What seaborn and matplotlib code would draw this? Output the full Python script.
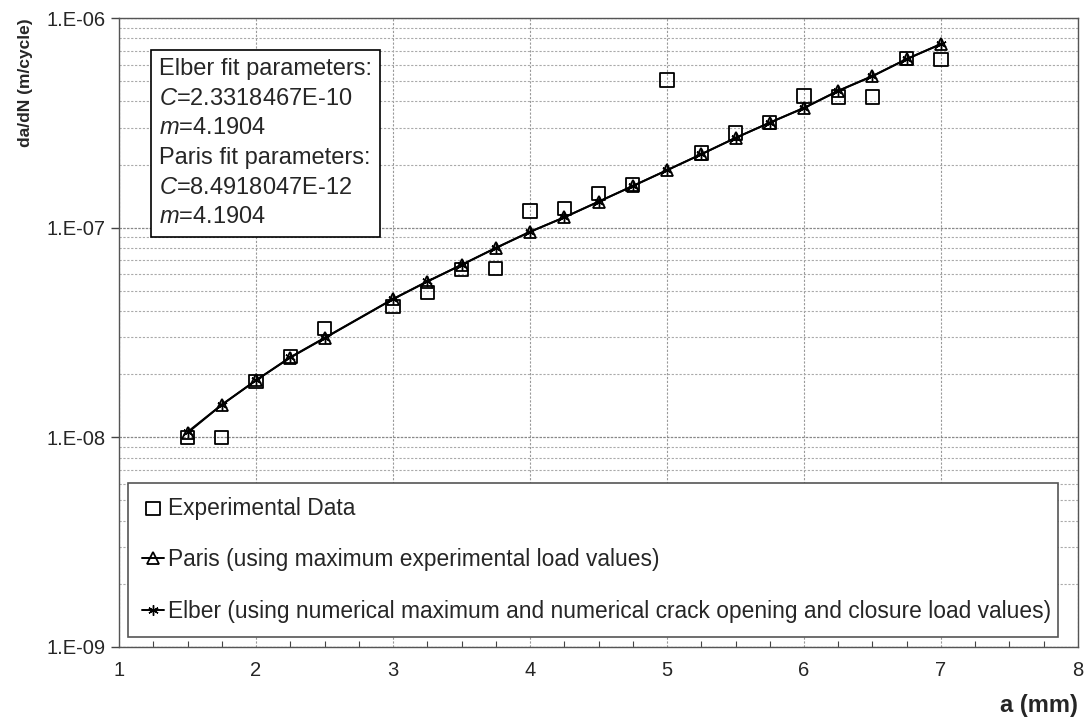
import math

import matplotlib as mpl
mpl.use('Agg')
import matplotlib.pyplot as plt
import seaborn as sns
from matplotlib.ticker import FuncFormatter, LogLocator, MultipleLocator

# crack length (mm)
a_exp = [1.5, 1.75, 2.0, 2.25, 2.5, 3.0, 3.25, 3.5, 3.75, 4.0, 4.25, 4.5, 4.75,
         5.0, 5.25, 5.5, 5.75, 6.0, 6.25, 6.5, 6.75, 7.0]
dadn_exp = [1.0e-8, 1.0e-8, 1.84e-8, 2.43e-8, 3.31e-8, 4.2e-8, 4.92e-8, 6.34e-8, 6.4e-8,
            1.2e-7, 1.24e-7, 1.45e-7, 1.6e-7, 5.06e-7, 2.27e-7, 2.83e-7, 3.17e-7,
            4.25e-7, 4.2e-7, 4.2e-7, 6.44e-7, 6.36e-7]

a_model = a_exp
dadn_paris = [1.05e-8, 1.43e-8, 1.87e-8, 2.40e-8, 2.97e-8, 4.56e-8, 5.53e-8, 6.64e-8, 8.0e-8,
              9.55e-8, 1.12e-7, 1.33e-7, 1.58e-7, 1.88e-7, 2.24e-7, 2.68e-7, 3.17e-7,
              3.72e-7, 4.49e-7, 5.28e-7, 6.37e-7, 7.51e-7]
dadn_elber = [1.06e-8, 1.43e-8, 1.87e-8, 2.41e-8, 2.98e-8, 4.57e-8, 5.54e-8, 6.65e-8, 8.0e-8,
              9.56e-8, 1.12e-7, 1.33e-7, 1.58e-7, 1.88e-7, 2.24e-7, 2.68e-7, 3.17e-7,
              3.73e-7, 4.50e-7, 5.29e-7, 6.38e-7, 7.52e-7]

labels = ['Experimental Data',
          'Paris (using maximum experimental load values)',
          'Elber (using numerical maximum and numerical crack opening and closure load values)']
fit_text = ('Elber fit parameters:\n$\\mathit{C}$=2.3318467E-10\n$\\mathit{m}$=4.1904\n'
            'Paris fit parameters:\n$\\mathit{C}$=8.4918047E-12\n$\\mathit{m}$=4.1904')

sns.set_style('white')
plt.rcParams['font.family'] = ['Liberation Sans', 'DejaVu Sans']
plt.rcParams['mathtext.fontset'] = 'custom'
plt.rcParams['mathtext.rm'] = 'Liberation Sans'
plt.rcParams['mathtext.it'] = 'Liberation Sans:italic'

fig, ax = plt.subplots(figsize=(10.88, 7.24), dpi=100)
fig.subplots_adjust(left=0.1094, right=0.9908, top=0.9751, bottom=0.1064)

sns.scatterplot(x=a_exp, y=dadn_exp, marker='s', s=90, facecolor='none',
                edgecolor='black', linewidth=1.3, label=labels[0], ax=ax, zorder=3)
sns.lineplot(x=a_model, y=dadn_paris, color='black', lw=1.4, marker='^', markersize=9,
             markerfacecolor='none', markeredgecolor='black', markeredgewidth=1.3,
             label=labels[1], ax=ax, zorder=4)
sns.lineplot(x=a_model, y=dadn_elber, color='black', lw=1.4, marker=(6, 2, 0), markersize=7.5,
             markeredgecolor='black', markeredgewidth=1.0,
             label=labels[2], ax=ax, zorder=5)

ax.set_yscale('log')
ax.set_xlim(1, 8)
ax.set_ylim(1e-9, 1e-6)
ax.xaxis.set_major_locator(MultipleLocator(1))
ax.xaxis.set_minor_locator(MultipleLocator(0.25))
ax.yaxis.set_major_locator(LogLocator(base=10))
ax.yaxis.set_minor_locator(LogLocator(base=10, subs=range(2, 10)))
ax.yaxis.set_major_formatter(FuncFormatter(lambda v, p: '1.E-%02d' % round(-math.log10(v))))
ax.yaxis.set_minor_formatter(FuncFormatter(lambda v, p: ''))

ax.grid(which='major', axis='x', color='#999999', lw=0.8, ls=(0, (2, 1.5)))
ax.grid(which='major', axis='y', color='#888888', lw=0.9, ls=(0, (2, 1)))
ax.grid(which='minor', axis='y', color='#aaaaaa', lw=0.8, ls=(0, (2, 1.5)))

ax.tick_params(axis='x', which='major', direction='inout', length=8, width=1, color='#444444',
               labelsize=14.5, pad=6)
ax.tick_params(axis='x', which='minor', direction='in', length=4, width=0.8, color='#444444',
               bottom=True)
ax.tick_params(axis='y', which='major', direction='out', length=6, width=1, color='#444444',
               labelsize=14.5, pad=4, left=True)
ax.tick_params(axis='y', which='minor', direction='out', length=0, left=True)
for s in ax.spines.values():
    s.set_color('#555555')
    s.set_linewidth(1)

ax.set_ylabel('da/dN (m/cycle)', fontsize=12.5, fontweight='bold', loc='top')
ax.yaxis.set_label_coords(-0.0897, 1.0)
ax.set_xlabel('a (mm)', fontsize=17, fontweight='bold', loc='right', labelpad=10)

ax.text(0.0417, 0.9364, fit_text, transform=ax.transAxes, fontsize=17, va='top', ha='left',
        linespacing=1.45, zorder=6,
        bbox=dict(boxstyle='square,pad=0.35', facecolor='white', edgecolor='black', lw=1.2))

leg = ax.legend(loc='lower left', bbox_to_anchor=(0.0094, 0.016, 0.97, 0.238), mode='expand',
                fontsize=16.4, frameon=True, fancybox=False, framealpha=1, edgecolor='#555555',
                labelspacing=1.25, borderpad=0.62, handlelength=0.95, handletextpad=0.2,
                borderaxespad=0)
leg.get_frame().set_linewidth(1.2)
leg.set_zorder(7)

fig.savefig('out.png', dpi=100)
